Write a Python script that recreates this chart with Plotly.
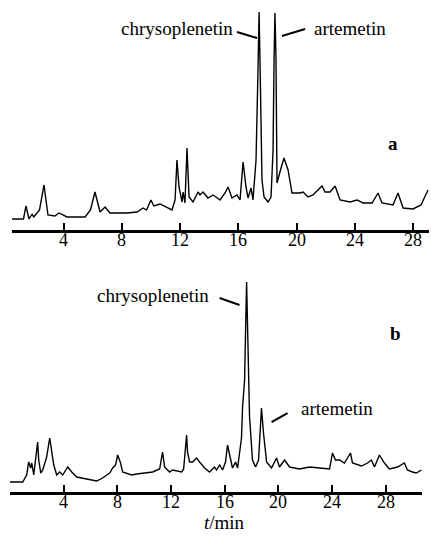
import plotly.graph_objects as go

# ---- data: chromatogram a (time in min, detector response, arbitrary units)
a_time = [0.46, 1.25, 1.42, 1.63, 1.84, 1.95, 2.35, 2.66, 2.93, 3.40, 3.69, 4.24, 5.48, 5.85,
          6.16, 6.51, 6.85, 7.19, 8.36, 9.05, 9.46, 9.70, 10.00, 10.20, 10.63, 11.45, 11.66,
          11.79, 11.93, 12.14, 12.21, 12.34, 12.48, 12.62, 12.89, 13.24, 13.37, 13.58, 13.92,
          14.27, 14.75, 15.09, 15.30, 15.57, 15.91, 16.12, 16.33, 16.53, 16.67, 16.88, 17.01,
          17.22, 17.36, 17.43, 17.50, 17.63, 17.77, 18.04, 18.25, 18.39, 18.46, 18.52, 18.59,
          18.66, 18.90, 19.14, 19.42, 19.69, 20.24, 20.45, 20.79, 21.13, 21.75, 21.96, 22.30,
          22.65, 22.99, 23.68, 24.16, 24.57, 25.19, 25.60, 25.87, 26.63, 26.97, 27.32, 28.00,
          28.55, 29.03]
a_signal = [11, 11, 24, 11, 16, 13, 20, 45, 15, 14, 17, 13, 13, 20,
            38, 18, 23, 17, 17, 18, 22, 20, 30, 24, 26, 20, 30,
            70, 43, 28, 38, 27, 82, 33, 28, 38, 35, 38, 32,
            35, 30, 37, 43, 32, 35, 30, 68, 43, 32, 42, 30,
            70, 163, 218, 163, 50, 33, 28, 33, 80, 172, 217, 172,
            47, 60, 72, 60, 37, 37, 38, 33, 35, 44, 38, 38,
            44, 30, 28, 30, 27, 27, 37, 27, 25, 37, 22, 21,
            25, 40]

# ---- data: chromatogram b
b_time = [0.00, 0.95, 1.24, 1.39, 1.54, 1.62, 1.77, 1.99, 2.06, 2.14, 2.29, 2.44, 2.73, 2.96,
          3.11, 3.26, 3.48, 3.70, 3.93, 4.30, 4.60, 4.97, 5.71, 6.46, 6.90, 7.43, 7.65, 7.87,
          8.02, 8.24, 8.39, 9.06, 9.44, 9.88, 10.63, 11.15, 11.37, 11.52, 11.89, 12.12, 12.79,
          12.94, 13.16, 13.23, 13.38, 13.61, 13.90, 14.13, 14.50, 14.87, 15.24, 15.39, 15.62,
          15.84, 16.06, 16.21, 16.43, 16.58, 16.81, 16.96, 17.25, 17.33, 17.48, 17.63, 17.85,
          18.07, 18.30, 18.52, 18.74, 18.89, 19.12, 19.49, 19.86, 20.08, 20.46, 20.83, 21.57,
          22.32, 23.06, 23.81, 24.03, 24.25, 24.55, 24.92, 25.37, 25.52, 26.19, 26.64, 26.93,
          27.16, 27.53, 27.90, 28.27, 28.87, 29.39, 29.61, 29.99, 30.28, 30.66]
b_signal = [10, 10, 17, 30, 24, 29, 17, 39, 50, 32, 19, 22, 35, 54,
            39, 27, 17, 20, 17, 25, 20, 15, 13, 11, 14, 19, 24, 27,
            37, 29, 20, 17, 18, 19, 20, 23, 40, 25, 20, 22, 20,
            23, 57, 40, 30, 30, 34, 30, 24, 20, 25, 22, 27,
            22, 30, 47, 32, 24, 30, 24, 54, 85, 112, 210, 75,
            32, 25, 32, 84, 59, 30, 24, 34, 25, 32, 25, 23,
            25, 24, 23, 39, 32, 32, 29, 39, 29, 26, 29, 32,
            25, 37, 29, 23, 25, 29, 22, 20, 19, 22]

tick_vals = [4, 8, 12, 16, 20, 24, 28]
tick_text = ["4", "8", "12", "16", "20", "24", "28"]

SERIF = "Liberation Serif"

fig = go.Figure()
fig.add_trace(go.Scatter(x=a_time, y=a_signal, mode="lines", xaxis="x", yaxis="y",
                         line=dict(color="black", width=1.4), showlegend=False))
fig.add_trace(go.Scatter(x=b_time, y=b_signal, mode="lines", xaxis="x2", yaxis="y2",
                         line=dict(color="black", width=1.4), showlegend=False))

xcommon = dict(showline=True, linecolor="black", linewidth=2.5, ticks="inside", ticklen=7,
               tickwidth=2, tickcolor="black", tickvals=tick_vals, showticklabels=False,
               showgrid=False, zeroline=False)

YA = [0.5725, 0.9814]
YB = [0.0855, 0.4981]
fig.update_layout(
    width=431, height=538, margin=dict(l=0, r=0, t=0, b=0),
    paper_bgcolor="white", plot_bgcolor="white",
    xaxis=dict(domain=[0.0278, 0.9954], range=[0.46, 29.1], anchor="y", **xcommon),
    yaxis=dict(domain=YA, range=[0, 220], visible=False),
    xaxis2=dict(domain=[0.0232, 0.9791], range=[0.0, 30.7], anchor="y2", **xcommon),
    yaxis2=dict(domain=YB, range=[0, 222], visible=False),
)

font = dict(family=SERIF, size=19, color="black")
tfont = dict(family=SERIF, size=18, color="black")
ann = [
    dict(x=15.78, y=202, xref="x", yref="y", text="chrysoplenetin", xanchor="right", yanchor="middle"),
    dict(x=21.07, y=202, xref="x", yref="y", text="artemetin", xanchor="left", yanchor="middle"),
    dict(x=26.63, y=86, xref="x", yref="y", text="<b>a</b>", xanchor="center", yanchor="middle"),
    dict(x=14.95, y=197, xref="x2", yref="y2", text="chrysoplenetin", xanchor="right", yanchor="middle"),
    dict(x=21.5, y=84, xref="x2", yref="y2", text="artemetin", xanchor="left", yanchor="middle"),
    dict(x=28.72, y=159, xref="x2", yref="y2", text="<b>b</b>", xanchor="center", yanchor="middle"),
    dict(x=0.52, y=0.028, xref="paper", yref="paper", text="<i>t</i>/min", xanchor="center",
         yanchor="middle", borderpad=0),
]
for a in ann:
    a.update(showarrow=False, font=font)
# tick labels, set just under each axis line
for xr, ybot in (("x", YA[0]), ("x2", YB[0])):
    for v, t in zip(tick_vals, tick_text):
        ann.append(dict(x=v, y=ybot, xref=xr, yref="paper", text=t, xanchor="center",
                        yanchor="top", yshift=1, borderpad=0, showarrow=False, font=tfont))
fig.update_layout(annotations=ann)

lines = [
    ("x", "y", 15.91, 198, 17.29, 192),
    ("x", "y", 19.00, 194, 20.59, 201),
    ("x2", "y2", 15.62, 194, 17.10, 187),
    ("x2", "y2", 19.49, 70, 20.68, 79),
]
for xr, yr, x0, y0, x1, y1 in lines:
    fig.add_shape(type="line", xref=xr, yref=yr, x0=x0, y0=y0, x1=x1, y1=y1,
                  line=dict(color="black", width=2))

fig.write_html("out.html")
